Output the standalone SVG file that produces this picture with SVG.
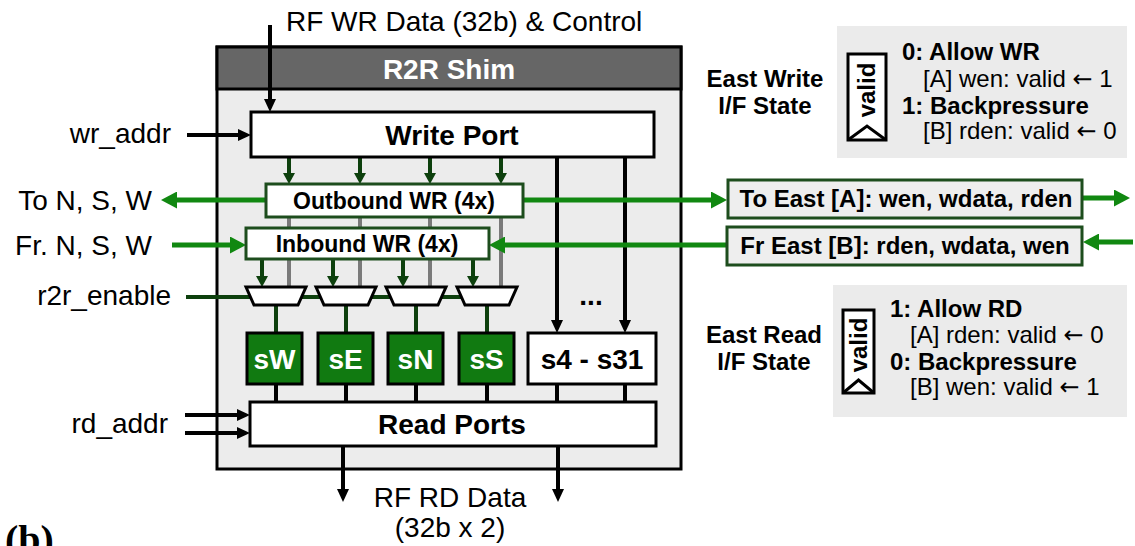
<svg xmlns="http://www.w3.org/2000/svg" width="1135" height="546" viewBox="0 0 1135 546">
  <style>
    text { font-family: "Liberation Sans", Arial, sans-serif; fill: #000; }
    .lbl { font-size: 28px; }
    .b28 { font-size: 28px; font-weight: bold; }
    .b24 { font-size: 24px; font-weight: bold; }
    .r24 { font-size: 24px; }
    .arw { font-family: "DejaVu Sans", sans-serif; font-size: 24px; }
    .mid { text-anchor: middle; }
    .end { text-anchor: end; }
    .box { fill: #fff; stroke: #000; stroke-width: 3; }
    .gbox { fill: #fff; stroke: #1d4d1d; stroke-width: 3; }
    .ebox { fill: #eeeeee; stroke: #1d4d1d; stroke-width: 3; }
    .reg { fill: #117a11; stroke: #000; stroke-width: 3; }
    .regt { font-size: 28px; font-weight: bold; fill: #fff; text-anchor: middle; }
    .mux { fill: #fff; stroke: #000; stroke-width: 3; stroke-linejoin: miter; }
    .blk { stroke: #000; stroke-width: 4; fill: none; }
    .grn { stroke: #118811; stroke-width: 5; fill: none; }
    .dgr { stroke: #0d400d; stroke-width: 4; fill: none; }
    .gry { stroke: #7a7a7a; stroke-width: 4; fill: none; }
    .panel { fill: #ebebeb; }
    .tag { fill: #fff; stroke: #000; stroke-width: 3; }
  </style>
  <defs>
    <marker id="ab" viewBox="0 0 13 12" markerWidth="13" markerHeight="12" refX="3" refY="6" orient="auto" markerUnits="userSpaceOnUse">
      <path d="M0,0 L13,6 L0,12 z" fill="#000"/>
    </marker>
    <marker id="ag" viewBox="0 0 16 17" markerWidth="16" markerHeight="17" refX="3" refY="8.5" orient="auto" markerUnits="userSpaceOnUse">
      <path d="M0,0 L16,8.5 L0,17 z" fill="#118811"/>
    </marker>
    <marker id="ad" viewBox="0 0 11 12" markerWidth="11" markerHeight="12" refX="3" refY="6" orient="auto" markerUnits="userSpaceOnUse">
      <path d="M0,0 L11,6 L0,12 z" fill="#0d400d"/>
    </marker>
  </defs>

  <!-- shim enclosure with title bar -->
  <g id="shim">
    <rect x="217" y="47" width="464" height="422" fill="#ececec" stroke="#000" stroke-width="3"/>
    <rect x="217" y="47" width="464" height="42" fill="#666" stroke="#000" stroke-width="3"/>
    <text class="b28 mid" x="449" y="79" style="fill:#fff">R2R Shim</text>
  </g>

  <!-- connectors -->
  <g id="connectors">
    <!-- bypass from outbound to the mux inputs -->
    <line class="gry" x1="289" y1="217" x2="289" y2="287"/>
    <line class="gry" x1="360" y1="217" x2="360" y2="287"/>
    <line class="gry" x1="430" y1="217" x2="430" y2="287"/>
    <line class="gry" x1="501" y1="217" x2="501" y2="287"/>
    <!-- mux select -->
    <line class="dgr" x1="186" y1="297" x2="496" y2="297"/>
    <!-- mux outputs to special registers -->
    <line class="dgr" x1="276" y1="305" x2="276" y2="333"/>
    <line class="dgr" x1="346" y1="305" x2="346" y2="333"/>
    <line class="dgr" x1="416" y1="305" x2="416" y2="333"/>
    <line class="dgr" x1="487" y1="305" x2="487" y2="333"/>
    <!-- write port to outbound -->
    <line class="dgr" x1="289" y1="157" x2="289" y2="176" marker-end="url(#ad)"/>
    <line class="dgr" x1="360" y1="157" x2="360" y2="176" marker-end="url(#ad)"/>
    <line class="dgr" x1="430" y1="157" x2="430" y2="176" marker-end="url(#ad)"/>
    <line class="dgr" x1="501" y1="157" x2="501" y2="176" marker-end="url(#ad)"/>
    <!-- inbound to mux -->
    <line class="dgr" x1="262" y1="259" x2="262" y2="279" marker-end="url(#ad)"/>
    <line class="dgr" x1="333" y1="259" x2="333" y2="279" marker-end="url(#ad)"/>
    <line class="dgr" x1="403" y1="259" x2="403" y2="279" marker-end="url(#ad)"/>
    <line class="dgr" x1="473" y1="259" x2="473" y2="279" marker-end="url(#ad)"/>
    <!-- black data/address paths -->
    <line class="blk" x1="270" y1="25" x2="270" y2="102" marker-end="url(#ab)"/>
    <line class="blk" x1="187" y1="135" x2="241" y2="135" marker-end="url(#ab)"/>
    <line class="blk" x1="557" y1="157" x2="557" y2="323" marker-end="url(#ab)"/>
    <line class="blk" x1="625" y1="157" x2="625" y2="323" marker-end="url(#ab)"/>
    <line class="blk" x1="276" y1="384" x2="276" y2="402"/>
    <line class="blk" x1="346" y1="384" x2="346" y2="402"/>
    <line class="blk" x1="416" y1="384" x2="416" y2="402"/>
    <line class="blk" x1="487" y1="384" x2="487" y2="402"/>
    <line class="blk" x1="557" y1="384" x2="557" y2="402"/>
    <line class="blk" x1="625" y1="384" x2="625" y2="402"/>
    <line class="blk" x1="185" y1="415" x2="240" y2="415" marker-end="url(#ab)"/>
    <line class="blk" x1="185" y1="433" x2="240" y2="433" marker-end="url(#ab)"/>
    <line class="blk" x1="343" y1="446" x2="343" y2="492" marker-end="url(#ab)"/>
    <line class="blk" x1="558" y1="446" x2="558" y2="492" marker-end="url(#ab)"/>
    <!-- network links -->
    <line class="grn" x1="266" y1="200" x2="174" y2="200" marker-end="url(#ag)"/>
    <line class="grn" x1="172" y1="245" x2="233" y2="245" marker-end="url(#ag)"/>
    <line class="grn" x1="523" y1="200" x2="714" y2="200" marker-end="url(#ag)"/>
    <line class="grn" x1="1082" y1="198" x2="1117" y2="198" marker-end="url(#ag)"/>
    <line class="grn" x1="1133" y1="242" x2="1096" y2="242" marker-end="url(#ag)"/>
    <line class="grn" x1="727" y1="245" x2="502" y2="245" marker-end="url(#ag)"/>
  </g>

  <!-- external labels -->
  <g id="labels">
    <text class="lbl" x="286" y="31">RF WR Data (32b) &amp; Control</text>
    <text class="lbl end" x="171" y="143">wr_addr</text>
    <text class="lbl end" x="152" y="210">To N, S, W</text>
    <text class="lbl end" x="152" y="255">Fr. N, S, W</text>
    <text class="lbl end" x="171" y="305">r2r_enable</text>
    <text class="lbl end" x="168" y="433">rd_addr</text>
    <text class="lbl mid" x="450" y="507">RF RD Data</text>
    <text class="lbl mid" x="450" y="537">(32b x 2)</text>
    <text x="5" y="553" style="font-family:'Liberation Serif','Times New Roman',serif;font-size:40px;font-weight:bold">(b)</text>
  </g>

  <g id="write-port">
    <rect class="box" x="251" y="112" width="403" height="45"/>
    <text class="b28 mid" x="452" y="145">Write Port</text>
  </g>

  <g id="outbound-wr">
    <rect class="gbox" x="266" y="184" width="257" height="33"/>
    <text class="mid" x="394" y="209" style="font-size:23px;font-weight:bold">Outbound WR (4x)</text>
  </g>

  <g id="inbound-wr">
    <rect class="gbox" x="246" y="228" width="243" height="31"/>
    <text class="mid" x="367" y="252" style="font-size:23px;font-weight:bold">Inbound WR (4x)</text>
  </g>

  <g id="muxes">
    <polygon class="mux" points="246,287 306,287 298,305 254,305"/>
    <polygon class="mux" points="316,287 376,287 368,305 324,305"/>
    <polygon class="mux" points="386,287 446,287 438,305 394,305"/>
    <polygon class="mux" points="457,287 517,287 509,305 465,305"/>
  </g>

  <g id="reg-sW">
    <rect class="reg" x="247" y="333" width="55" height="51"/>
    <text class="regt" x="274.5" y="369">sW</text>
  </g>
  <g id="reg-sE">
    <rect class="reg" x="318" y="333" width="55" height="51"/>
    <text class="regt" x="345.5" y="369">sE</text>
  </g>
  <g id="reg-sN">
    <rect class="reg" x="388" y="333" width="55" height="51"/>
    <text class="regt" x="415.5" y="369">sN</text>
  </g>
  <g id="reg-sS">
    <rect class="reg" x="459" y="333" width="55" height="51"/>
    <text class="regt" x="486.5" y="369">sS</text>
  </g>

  <g id="reg-s4-s31">
    <rect class="box" x="528" y="333" width="128" height="51"/>
    <text class="b28 mid" x="592" y="369">s4 - s31</text>
    <text class="b28 mid" x="591" y="305">...</text>
  </g>

  <g id="read-ports">
    <rect class="box" x="250" y="402" width="406" height="44"/>
    <text class="b28 mid" x="452" y="434">Read Ports</text>
  </g>

  <g id="to-east">
    <rect class="ebox" x="728" y="180" width="354" height="38"/>
    <text class="b24 mid" x="906" y="207">To East [A]: wen, wdata, rden</text>
  </g>

  <g id="fr-east">
    <rect class="ebox" x="727" y="227" width="355" height="38"/>
    <text class="b24 mid" x="905" y="254">Fr East [B]: rden, wdata, wen</text>
  </g>

  <g id="east-write-state">
    <text class="b24 mid" x="765" y="87">East Write</text>
    <text class="b24 mid" x="765" y="114">I/F State</text>
    <rect class="panel" x="837" y="26" width="290" height="132"/>
    <rect class="tag" x="848" y="54" width="38" height="86"/>
    <polyline points="848,140 867,126 886,140" fill="none" stroke="#000" stroke-width="3"/>
    <text class="b24 mid" transform="translate(875,90) rotate(-90)">valid</text>
    <text class="b24" x="902" y="60">0: Allow WR</text>
    <text class="r24" x="923" y="87">[A] wen: valid <tspan class="arw">←</tspan> 1</text>
    <text class="b24" x="902" y="114">1: Backpressure</text>
    <text class="r24" x="923" y="139">[B] rden: valid <tspan class="arw">←</tspan> 0</text>
  </g>

  <g id="east-read-state">
    <text class="b24 mid" x="764" y="343">East Read</text>
    <text class="b24 mid" x="764" y="370">I/F State</text>
    <rect class="panel" x="833" y="285" width="294" height="132"/>
    <rect class="tag" x="843" y="310" width="31" height="83"/>
    <polyline points="843,393 858.5,380 874,393" fill="none" stroke="#000" stroke-width="3"/>
    <text class="b24 mid" transform="translate(867,345) rotate(-90)">valid</text>
    <text class="b24" x="890" y="317">1: Allow RD</text>
    <text class="r24" x="910" y="343">[A] rden: valid <tspan class="arw">←</tspan> 0</text>
    <text class="b24" x="890" y="370">0: Backpressure</text>
    <text class="r24" x="910" y="395">[B] wen: valid <tspan class="arw">←</tspan> 1</text>
  </g>
</svg>
